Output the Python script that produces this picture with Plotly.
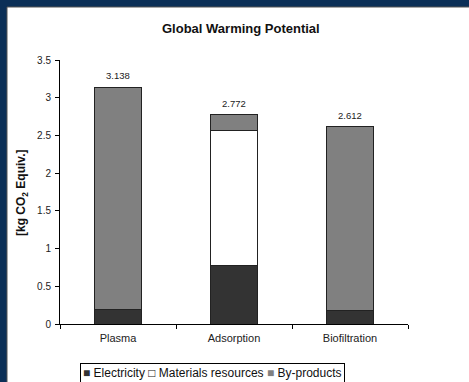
import plotly.graph_objects as go

categories = ["Plasma", "Adsorption", "Biofiltration"]
electricity = [0.19, 0.77, 0.18]
materials = [0.0, 1.79, 0.0]
by_products = [2.948, 0.212, 2.432]
totals = [3.138, 2.772, 2.612]

series = [
    ("Electricity", electricity, "#333333"),
    ("Materials resources", materials, "#ffffff"),
    ("By-products", by_products, "#808080"),
]

W, H = 469, 382
L, R, T, B = 60, 61, 60, 58
pw = W - L - R
ph = H - T - B

def px_x(p):
    return (p - L) / pw

def px_y(p):
    return (H - B - p) / ph

font = "Liberation Sans, Arial, sans-serif"
line = dict(color="#222222", width=1)

fig = go.Figure()
for name, vals, color in series:
    fig.add_bar(name=name, x=categories, y=vals,
                marker=dict(color=color, line=line), width=0.41)

for c, t in zip(categories, totals):
    fig.add_annotation(x=c, y=t, text=f"{t:.3f}", showarrow=False,
                       yanchor="bottom", yshift=4,
                       font=dict(family=font, size=9.5, color="#222222"))

fig.add_annotation(xref="paper", yref="paper", x=px_x(241), y=px_y(28),
                   text="<b>Global Warming Potential</b>", showarrow=False,
                   xanchor="center", yanchor="middle",
                   font=dict(family=font, size=13, color="#111111"))
fig.add_annotation(xref="paper", yref="paper", x=px_x(22), y=px_y(193),
                   text="<b>[kg CO<sub>2</sub> Equiv.]</b>", showarrow=False,
                   textangle=-90, xanchor="center", yanchor="middle",
                   font=dict(family=font, size=12, color="#111111"))

# boxed key below the axis
marks = {"#333333": "■", "#ffffff": "□", "#808080": "■"}
key = "&nbsp;".join(
    f"<span style='color:{'#111111' if c == '#ffffff' else c}'>{marks[c]}</span>&nbsp;{n}"
    for n, _, c in series
)
fig.add_annotation(xref="paper", yref="paper", x=px_x(212), y=px_y(373),
                   text=key, showarrow=False, xanchor="center",
                   yanchor="middle", bordercolor="#000000", borderwidth=1,
                   borderpad=2, bgcolor="#ffffff",
                   font=dict(family=font, size=12, color="#111111"))

# navy frame along the top and left edges
navy = "#0b2f57"
fig.add_shape(type="rect", xref="paper", yref="paper",
              x0=px_x(0), x1=px_x(W), y0=px_y(7), y1=px_y(0),
              fillcolor=navy, line=dict(width=0), layer="below")
fig.add_shape(type="rect", xref="paper", yref="paper",
              x0=px_x(0), x1=px_x(7), y0=px_y(H), y1=px_y(0),
              fillcolor=navy, line=dict(width=0), layer="below")
fig.add_shape(type="line", xref="paper", yref="paper",
              x0=px_x(7), x1=px_x(W), y0=px_y(7), y1=px_y(7),
              line=dict(color="#555555", width=1), layer="below")
fig.add_shape(type="line", xref="paper", yref="paper",
              x0=px_x(7), x1=px_x(7), y0=px_y(H), y1=px_y(7),
              line=dict(color="#555555", width=1), layer="below")

fig.update_layout(
    width=W, height=H, barmode="stack", bargap=0.59,
    margin=dict(l=L, r=R, t=T, b=B),
    paper_bgcolor="#ffffff", plot_bgcolor="#ffffff",
    font=dict(family=font, size=10, color="#222222"),
    showlegend=False,
    xaxis=dict(showline=True, linecolor="#000000", linewidth=1,
               ticks="outside", ticklen=4, tickcolor="#000000",
               tickson="boundaries", showgrid=False, ticklabelstandoff=4,
               tickfont=dict(family=font, size=11, color="#222222")),
    yaxis=dict(range=[0, 3.5], dtick=0.5, showline=True,
               linecolor="#000000", linewidth=1, ticks="outside",
               ticklen=4, tickcolor="#000000", showgrid=False,
               zeroline=False, ticklabelstandoff=2,
               tickfont=dict(family=font, size=10, color="#222222")),
)

fig.write_html("out.html")
